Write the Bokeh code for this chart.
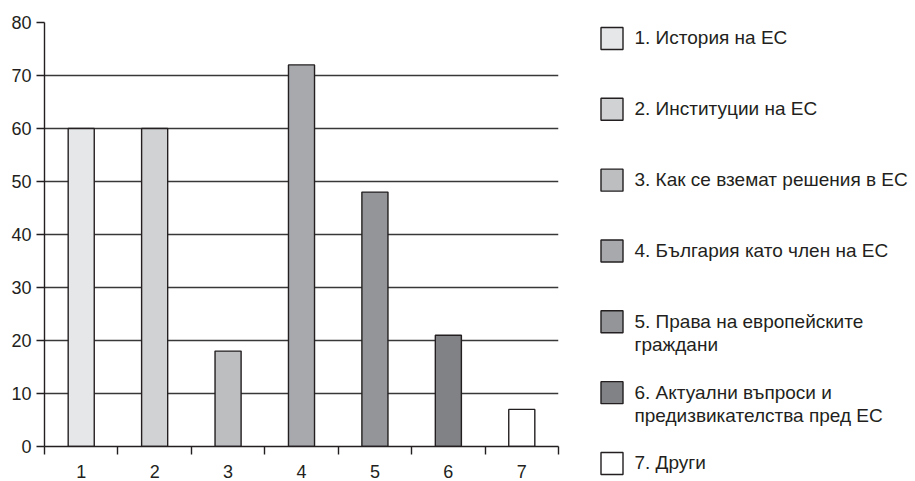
from bokeh.plotting import figure
from bokeh.models import Range1d, FixedTicker, ColumnDataSource
from bokeh.layouts import row
from bokeh.embed import file_html
from bokeh.resources import INLINE
from bokeh.core.properties import value

categories = [1, 2, 3, 4, 5, 6, 7]
tick_labels = ["1", "2", "3", "4", "5", "6", "7"]
values = [60, 60, 18, 72, 48, 21, 7]
legend_labels = [
    "1. История на ЕС",
    "2. Институции на ЕС",
    "3. Как се вземат решения в ЕС",
    "4. България като член на ЕС",
    "5. Права на европейските\n    граждани",
    "6. Актуални въпроси и\n    предизвикателства пред ЕС",
    "7. Други",
]
colors = ["#e6e7e8", "#d1d2d4", "#bcbec0", "#a7a9ac", "#939598", "#808285", "#ffffff"]
y_ticks = [0, 10, 20, 30, 40, 50, 60, 70, 80]

FONT = "Liberation Sans"
DARK = "#231f20"
H = 480

p = figure(width=566, height=H, x_range=Range1d(0.5, 7.5), y_range=Range1d(0, 80),
           output_backend="svg", toolbar_location=None,
           min_border_left=44, min_border_right=8, min_border_top=22, min_border_bottom=33)
p.outline_line_color = None

src = ColumnDataSource(dict(x=categories, top=values, color=colors))
p.vbar(x="x", top="top", width=0.355, bottom=0, fill_color="color",
       line_color=DARK, line_width=1.4, source=src)

p.xgrid.visible = False
p.ygrid.ticker = FixedTicker(ticks=y_ticks[1:])
p.ygrid.grid_line_color = "#383838"
p.ygrid.grid_line_width = 1.3

p.yaxis.ticker = FixedTicker(ticks=y_ticks)
p.yaxis.major_tick_in = 0
p.yaxis.major_tick_out = 8
p.yaxis.minor_tick_line_color = None
p.yaxis.axis_line_color = DARK
p.yaxis.axis_line_width = 1.4
p.yaxis.major_tick_line_color = DARK
p.yaxis.major_tick_line_width = 1.4
p.yaxis.major_label_standoff = 5
p.yaxis.major_label_text_font = FONT
p.yaxis.major_label_text_font_size = "18px"
p.yaxis.major_label_text_color = DARK

p.xaxis.ticker = FixedTicker(ticks=categories,
                             minor_ticks=[c - 0.5 for c in categories] + [categories[-1] + 0.5])
p.xaxis.major_label_overrides = {c: t for c, t in zip(categories, tick_labels)}
p.xaxis.major_tick_in = 0
p.xaxis.major_tick_out = 0
p.xaxis.major_tick_line_color = None
p.xaxis.minor_tick_in = 0
p.xaxis.minor_tick_out = 8
p.xaxis.minor_tick_line_color = DARK
p.xaxis.minor_tick_line_width = 1.4
p.xaxis.axis_line_color = DARK
p.xaxis.axis_line_width = 1.4
p.xaxis.major_label_standoff = 10
p.xaxis.major_label_text_font = FONT
p.xaxis.major_label_text_font_size = "18px"
p.xaxis.major_label_text_color = DARK

# legend panel (frame spans the same vertical band as the chart: 22..447 px)
n = len(legend_labels)
top_px, bot_px, first_c, step = 22, H - 33, 38, 71
lg = figure(width=348, height=H, x_range=Range1d(0, 348),
            y_range=Range1d((bot_px - first_c) / step, (top_px - first_c) / step),
            output_backend="svg", toolbar_location=None, x_axis_type=None, y_axis_type=None,
            min_border_left=0, min_border_right=0, min_border_top=22, min_border_bottom=33)
lg.outline_line_color = None
lg.xgrid.visible = False
lg.ygrid.visible = False
idx = list(range(n))
lsrc = ColumnDataSource(dict(y=idx, bx=[45.5] * n, tx=[68] * n, label=legend_labels, color=colors))
r1 = lg.rect(x="bx", y="y", width=22, height=22, width_units="screen", height_units="screen",
             fill_color="color", line_color=DARK, line_width=1.4, source=lsrc, level="overlay")
r2 = lg.text(x="tx", y="y", text="label", source=lsrc, text_baseline="top", text_align="left",
             y_offset=-11, text_font=value(FONT), text_font_size="19px", text_color=DARK,
             text_line_height=1.1, level="overlay")

layout = row(p, lg)
open("out.html", "w").write(file_html(layout, INLINE))
